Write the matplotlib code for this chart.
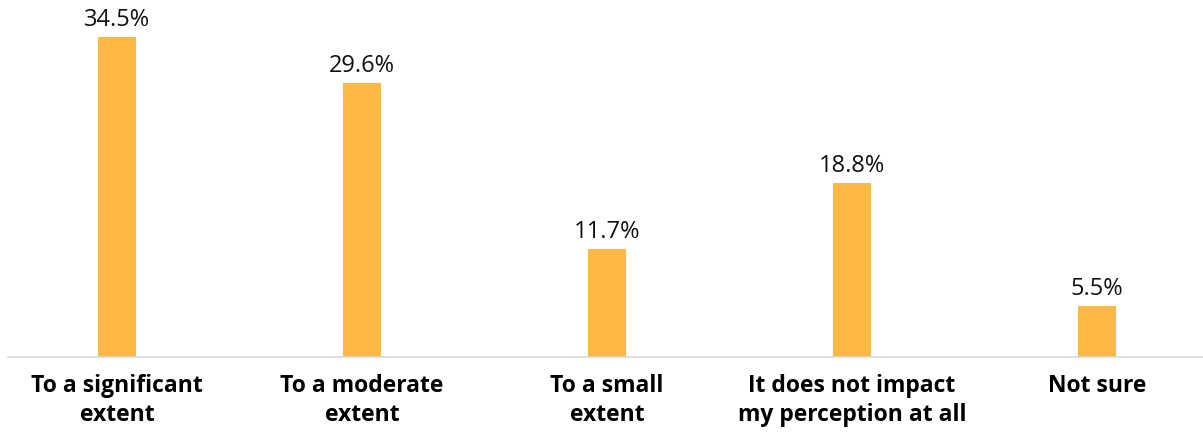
import matplotlib
matplotlib.use("Agg")
import matplotlib.pyplot as plt

categories = ["To a significant\nextent", "To a moderate\nextent", "To a small\nextent",
              "It does not impact\nmy perception at all", "Not sure"]
values = [34.5, 29.6, 11.7, 18.8, 5.5]
labels = ["34.5%", "29.6%", "11.7%", "18.8%", "5.5%"]

bar_color = "#FDB843"

fig = plt.figure(figsize=(12.03, 4.34), dpi=100)
ax = fig.add_axes([8 / 1203, 77 / 434, 1195 / 1203, 357 / 434])

x = list(range(len(categories)))
ax.bar(x, values, width=0.155, color=bar_color)

for xi, v, lab in zip(x, values, labels):
    ax.text(xi, v + 0.5, lab, ha="center", va="bottom", fontsize=17,
            family="Open Sans", color="#111111")

ax.set_xlim(-0.445, 4.433)
ax.set_ylim(0, 38.5)
ax.set_xticks(x)
ax.set_xticklabels(categories, fontsize=16.5, fontweight="bold", family="Open Sans",
                   linespacing=1.3)
ax.tick_params(axis="x", length=0, pad=12)
ax.set_yticks([])
for s in ["top", "left", "right"]:
    ax.spines[s].set_visible(False)
ax.spines["bottom"].set_color("#d9d9d9")
ax.spines["bottom"].set_linewidth(1.2)

fig.savefig("out.png", dpi=100)
